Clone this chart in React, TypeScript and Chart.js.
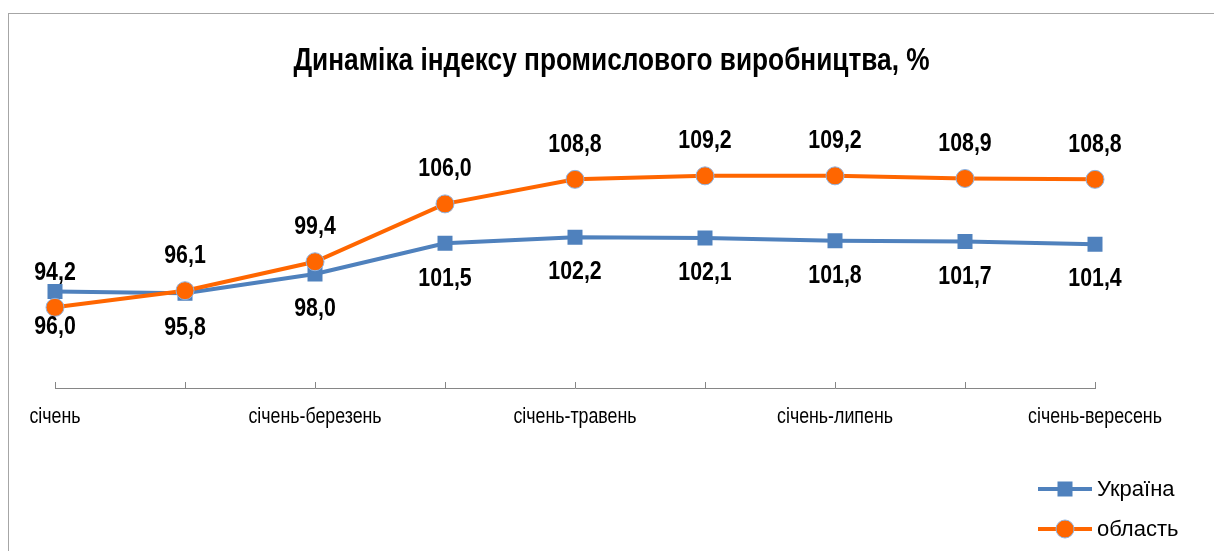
import React, { useEffect, useRef } from 'react';
import { Chart, registerables } from 'chart.js';

Chart.register(...registerables);

const categories = [
  'січень',
  'січень-лютий',
  'січень-березень',
  'січень-квітень',
  'січень-травень',
  'січень-червень',
  'січень-липень',
  'січень-серпень',
  'січень-вересень',
];
const ukraineValues = [96.0, 95.8, 98.0, 101.5, 102.2, 102.1, 101.8, 101.7, 101.4];
const oblastValues = [94.2, 96.1, 99.4, 106.0, 108.8, 109.2, 109.2, 108.9, 108.8];
const seriesNames = ['Україна', 'область'];
const titleText = 'Динаміка індексу промислового виробництва, %';
const yMin = 85;
const yMax = 115;

const SANS = "'Liberation Sans', Arial, sans-serif";
const NARROW_SCALE = 0.82;
const BLUE = '#4F81BD';
const ORANGE = '#FF6600';

const fmt = (v: number) => v.toFixed(1).replace('.', ',');

function drawNarrowText(
  ctx: CanvasRenderingContext2D,
  text: string,
  x: number,
  y: number,
  font: string,
  align: CanvasTextAlign,
  sx: number
) {
  ctx.save();
  ctx.translate(x, y);
  ctx.scale(sx, 1);
  ctx.font = font;
  ctx.fillStyle = '#000';
  ctx.textAlign = align;
  ctx.textBaseline = 'middle';
  ctx.fillText(text, 0, 0);
  ctx.restore();
}

const titlePlugin = {
  id: 'narrowTitle',
  afterDraw(chart: any) {
    const { ctx, width } = chart;
    drawNarrowText(ctx, titleText, width / 2, 47, `bold 32px ${SANS}`, 'center', NARROW_SCALE);
  },
};

const axisPlugin = {
  id: 'axisTicksAndLabels',
  beforeDatasetsDraw(chart: any) {
    const { ctx, chartArea } = chart;
    const xs = chart.scales.x;
    ctx.save();
    ctx.strokeStyle = '#868686';
    ctx.lineWidth = 1;
    const yLine = Math.round(chartArea.bottom) + 0.5;
    ctx.beginPath();
    ctx.moveTo(Math.round(xs.getPixelForValue(0)), yLine);
    ctx.lineTo(Math.round(xs.getPixelForValue(categories.length - 1)) + 1, yLine);
    ctx.stroke();
    for (let i = 0; i < categories.length; i++) {
      const x = Math.round(xs.getPixelForValue(i)) + 0.5;
      ctx.beginPath();
      ctx.moveTo(x, chartArea.bottom);
      ctx.lineTo(x, chartArea.bottom - 6);
      ctx.stroke();
    }
    ctx.restore();
    for (let i = 0; i < categories.length; i += 2) {
      drawNarrowText(
        ctx,
        categories[i],
        xs.getPixelForValue(i),
        chartArea.bottom + 29,
        `21.7px ${SANS}`,
        'center',
        NARROW_SCALE
      );
    }
  },
};

const dataLabelsPlugin = {
  id: 'valueLabels',
  afterDatasetsDraw(chart: any) {
    const { ctx } = chart;
    chart.data.datasets.forEach((ds: any, di: number) => {
      const meta = chart.getDatasetMeta(di);
      const above = ds.labelPos === 'above';
      meta.data.forEach((pt: any, i: number) => {
        const v = ds.data[i] as number;
        const y = above ? pt.y - 35 : pt.y + 35;
        drawNarrowText(ctx, fmt(v), pt.x, y, `bold 26px ${SANS}`, 'center', NARROW_SCALE);
      });
    });
  },
};

const legendPlugin = {
  id: 'customLegend',
  afterDraw(chart: any) {
    const { ctx } = chart;
    ctx.save();
    const rows = [475, 515];
    chart.data.datasets.forEach((ds: any, di: number) => {
      const y = rows[di];
      const x1 = 1029;
      const x2 = 1083;
      const xm = (x1 + x2) / 2;
      ctx.strokeStyle = ds.borderColor;
      ctx.lineWidth = ds.borderWidth;
      ctx.beginPath();
      ctx.moveTo(x1, y);
      ctx.lineTo(x2, y);
      ctx.stroke();
      ctx.fillStyle = ds.pointBackgroundColor;
      if (ds.pointStyle === 'rect') {
        ctx.fillRect(xm - 7.5, y - 7.5, 15, 15);
      } else {
        ctx.beginPath();
        ctx.arc(xm, y, ds.pointRadius, 0, Math.PI * 2);
        ctx.fill();
        ctx.strokeStyle = ds.pointBorderColor;
        ctx.lineWidth = ds.pointBorderWidth;
        ctx.stroke();
      }
      ctx.fillStyle = '#000';
      ctx.font = `22px ${SANS}`;
      ctx.textAlign = 'left';
      ctx.textBaseline = 'middle';
      ctx.fillText(ds.label, 1088, y + 1);
    });
    ctx.restore();
  },
};

export default function App() {
  const canvasRef = useRef<HTMLCanvasElement | null>(null);

  useEffect(() => {
    if (!canvasRef.current) return;
    const chart = new Chart(canvasRef.current, {
      type: 'line',
      data: {
        labels: categories,
        datasets: [
          {
            label: seriesNames[0],
            data: ukraineValues,
            borderColor: BLUE,
            backgroundColor: BLUE,
            borderWidth: 4,
            pointStyle: 'rect',
            pointRadius: 10.6,
            pointBackgroundColor: BLUE,
            pointBorderColor: BLUE,
            pointBorderWidth: 0,
            tension: 0,
            order: 1,
            labelPos: 'below',
          } as any,
          {
            label: seriesNames[1],
            data: oblastValues,
            borderColor: ORANGE,
            backgroundColor: ORANGE,
            borderWidth: 4,
            pointStyle: 'circle',
            pointRadius: 9,
            pointBackgroundColor: ORANGE,
            pointBorderColor: '#8DB3E2',
            pointBorderWidth: 1,
            tension: 0,
            order: 0,
            labelPos: 'above',
          } as any,
        ],
      },
      options: {
        animation: false,
        responsive: true,
        maintainAspectRatio: false,
        layout: { padding: { left: 46, right: 119, top: 111, bottom: 163 } },
        plugins: {
          legend: { display: false },
          tooltip: { enabled: false },
          title: { display: false },
        },
        scales: {
          x: {
            display: false,
            offset: false,
          },
          y: {
            display: false,
            min: yMin,
            max: yMax,
          },
        },
      },
      plugins: [titlePlugin, axisPlugin, dataLabelsPlugin, legendPlugin],
    });
    return () => chart.destroy();
  }, []);

  return (
    <div style={{ position: 'fixed', inset: 0, overflow: 'hidden', background: '#fff' }}>
      <div
        style={{
          position: 'absolute',
          left: 8,
          top: 13,
          border: '1px solid #a6a6a6',
        }}
      >
        <div style={{ position: 'relative', width: 1205, height: 537 }}>
          <canvas ref={canvasRef} />
        </div>
      </div>
    </div>
  );
}
